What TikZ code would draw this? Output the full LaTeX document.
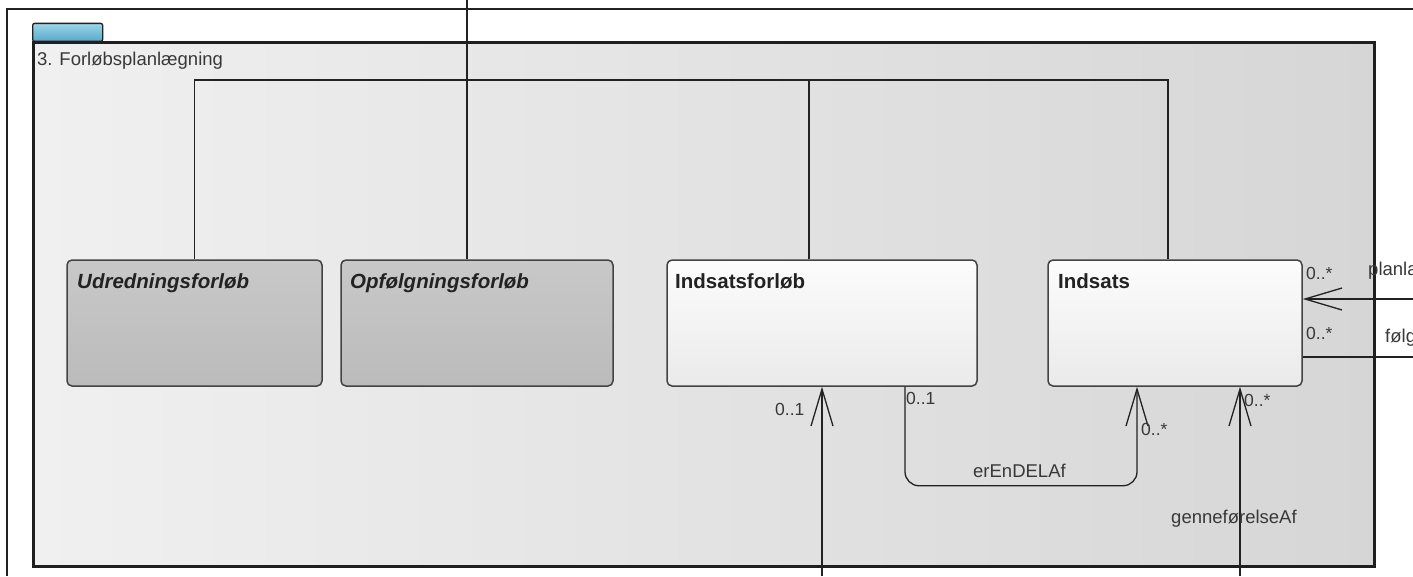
\documentclass[tikz,border=0pt]{standalone}
\usepackage{fontspec}
\setmainfont{Liberation Sans}
\usetikzlibrary{arrows.meta}
\definecolor{pkgL}{HTML}{F0F0F0}
\definecolor{pkgR}{HTML}{D6D6D6}
\definecolor{absT}{HTML}{C8C8C8}
\definecolor{absB}{HTML}{BBBBBB}
\definecolor{conT}{HTML}{FCFCFC}
\definecolor{conB}{HTML}{EAEAEA}
\definecolor{tabT}{HTML}{9AD6EA}
\definecolor{tabB}{HTML}{5AA8C8}
\definecolor{edge}{HTML}{222222}
\definecolor{txt}{HTML}{222222}
\tikzset{
  pkgframe/.style={draw=edge!90!black, line width=3pt, left color=pkgL, right color=pkgR, inner sep=0pt},
  tabbox/.style={draw=edge, line width=1.3pt, top color=tabT, bottom color=tabB, rounded corners=2pt, inner sep=0pt, minimum width=70pt, minimum height=18pt},
  absbox/.style={draw=edge!85, line width=1.5pt, top color=absT, bottom color=absB, rounded corners=5pt, inner sep=0pt, minimum height=126pt},
  conbox/.style={draw=edge!85, line width=1.5pt, top color=conT, bottom color=conB, rounded corners=5pt, inner sep=0pt, minimum height=126pt},
  boxtitle/.style={anchor=base west, inner sep=0pt, text=txt, font=\fontsize{20.5}{22}\selectfont\bfseries},
  lbl/.style={anchor=base west, inner sep=0pt, text=txt!90, font=\fontsize{18.5}{20}\selectfont},
  mult/.style={anchor=base west, inner sep=0pt, text=txt!90, font=\fontsize{17.5}{19}\selectfont},
  genline/.style={draw=edge, line width=1.3pt},
  assoc/.style={draw=edge, line width=1.3pt, -{Straight Barb[length=37pt,width=22pt]}},
  plainassoc/.style={draw=edge, line width=1.3pt}
}
\begin{document}
\begin{tikzpicture}[x=1pt,y=-1pt]
\useasboundingbox (0,0) rectangle (1413,576);
\fill[white] (0,0) rectangle (1413,576);
% outer thin frame
\draw[draw=edge, line width=1.2pt] (1413,9) -- (7,9) -- (7,576);
% package
\node[tabbox, anchor=south west] (tab) at (32,42) {};
\node[pkgframe, minimum width=1341pt, minimum height=524pt] (pkg) at (703.5,304) {};
\node[lbl] (ttl) at (37,65) {3. Forløbsplanlægning};
% classes
\node[absbox, minimum width=255pt] (udr) at (194.5,323) {};
\node[absbox, minimum width=272pt] (opf) at (477,323) {};
\node[conbox, minimum width=310pt] (ind) at (822,323) {};
\node[conbox, minimum width=254pt] (ins) at (1175,323) {};
\node[boxtitle, font=\fontsize{20.5}{22}\selectfont\bfseries\itshape] (udrT) at (77,288) {Udredningsforløb};
\node[boxtitle, font=\fontsize{20.5}{22}\selectfont\bfseries\itshape] (opfT) at (350,288) {Opfølgningsforløb};
\node[boxtitle] (indT) at (675,288) {Indsatsforløb};
\node[boxtitle] (insT) at (1058,288) {Indsats};
% generalization tree
\coordinate (top) at (467,0);
\coordinate (j) at (467,80);
\draw[genline] (top) -- ([xshift=-10pt]opf.north);
\draw[genline] (udr.north) |- (j) -| ([xshift=-7pt]ins.north);
\draw[genline] ([xshift=-13pt]ind.north) -- ([xshift=-13pt]ind.north |- j);
% associations
\coordinate (b1) at (822,576);
\coordinate (b2) at (1240,576);
\coordinate (r1) at (1413,299);
\coordinate (r2) at (1413,357);
\draw[assoc] (b1) -- (ind.south);
\draw[assoc, rounded corners=14pt] ([xshift=83pt]ind.south) -- ([xshift=83pt,yshift=-99pt]ind.south) -| ([xshift=-38pt]ins.south);
\draw[assoc] (b2) -- ([xshift=65pt]ins.south);
\draw[assoc] (r1) -- (ins.east |- r1);
\draw[plainassoc] (r2) -- (ins.east |- r2);
% labels
\node[mult] (m1) at (775,415) {0..1};
\node[mult] (m2) at (906,404) {0..1};
\node[mult] (m3) at (1141,435) {0..*};
\node[mult] (m4) at (1244,406) {0..*};
\node[mult] (m5) at (1306,279) {0..*};
\node[mult] (m6) at (1306,339) {0..*};
\node[lbl] (l1) at (973,477) {erEnDELAf};
\node[lbl] (l2) at (1171,523) {genneførelseAf};
\node[lbl] (l3) at (1368,275) {planla};
\node[lbl] (l4) at (1385,342) {følg};
\end{tikzpicture}
\end{document}
